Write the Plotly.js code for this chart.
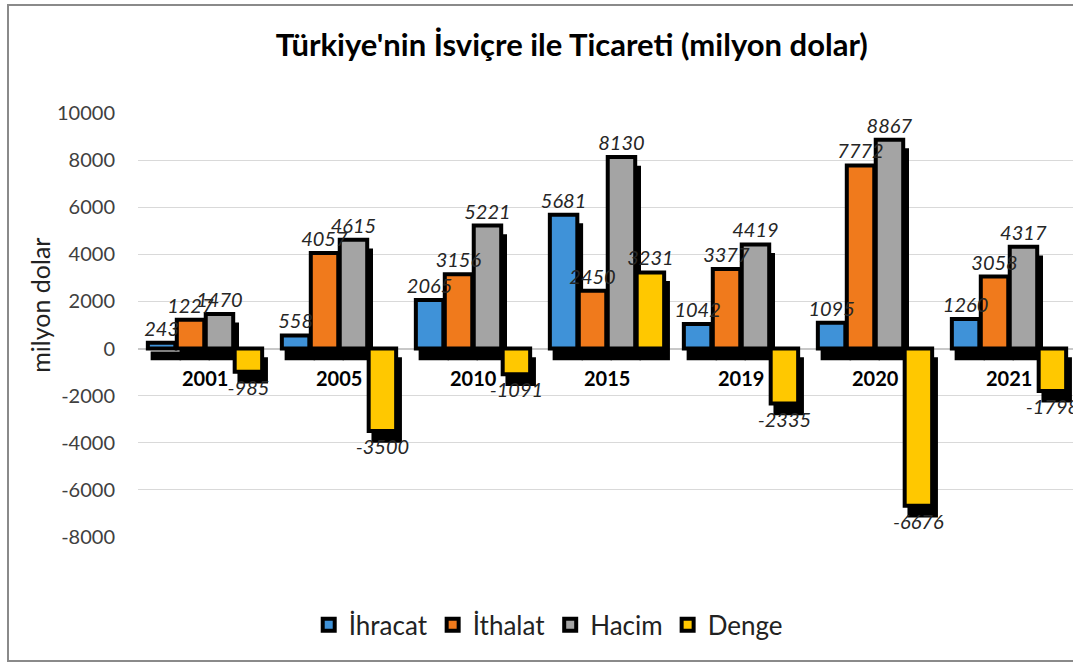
<!DOCTYPE html>
<html>
<head>
<meta charset="utf-8">
<script src="https://cdn.plot.ly/plotly-3.0.1.min.js"></script>
<style>
html,body{margin:0;padding:0;background:#fff;overflow:hidden;width:1073px;height:664px;}
#frame{position:absolute;left:7px;top:4px;width:1100px;height:654px;border:2px solid #8a8a8a;pointer-events:none;z-index:5;}
#chart{position:absolute;left:0;top:0;}
</style>
</head>
<body>
<div id="chart"></div>
<div id="frame"></div>
<script>
const categories = ['2001','2005','2010','2015','2019','2020','2021'];
const seriesNames = ['İhracat','İthalat','Hacim','Denge'];
const ihracat = [243, 558, 2065, 5681, 1042, 1095, 1260];
const ithalat = [1227, 4057, 3156, 2450, 3377, 7772, 3058];
const hacim = [1470, 4615, 5221, 8130, 4419, 8867, 4317];
const denge = [-985, -3500, -1091, 3231, -2335, -6676, -1798];
const tickVals = [-8000,-6000,-4000,-2000,0,2000,4000,6000,8000,10000];
const colors = ['#3f92d8','#f07a1c','#a4a4a4','#ffc800'];

const series = [ihracat, ithalat, hacim, denge];
const FONT = 'Lato, "Open Sans", sans-serif';
const pitch = 0.216, bw = 0.205;
const shadowDx = 0.032, shadowDy = 430;

const traces = [];
// shadows first (drawn beneath)
series.forEach((vals, i) => {
  const off = (i - 1.5) * pitch - bw / 2;
  traces.push({
    type: 'bar', x: categories, y: vals,
    base: vals.map(() => -shadowDy),
    offset: off + shadowDx, width: bw,
    marker: {color: '#000', line: {color: '#000', width: 3}},
    showlegend: false, hoverinfo: 'skip'
  });
});
// coloured bars
series.forEach((vals, i) => {
  const off = (i - 1.5) * pitch - bw / 2;
  traces.push({
    type: 'bar', name: seriesNames[i], x: categories, y: vals,
    offset: off, width: bw,
    marker: {color: colors[i], line: {color: '#000', width: 4}}
  });
});
// value labels drawn on top of all bars
series.forEach((vals, i) => {
  const off = (i - 1.5) * pitch - bw / 2;
  traces.push({
    type: 'bar', x: categories, y: vals,
    offset: off, width: bw,
    marker: {color: 'rgba(0,0,0,0)', line: {color: 'rgba(0,0,0,0)', width: 4}},
    text: vals.map(v => String(v)),
    texttemplate: '%{text}',
    textposition: 'outside',
    constraintext: 'none',
    cliponaxis: false,
    textfont: {family: FONT, size: 20, color: '#262626', style: 'italic'},
    showlegend: false, hoverinfo: 'skip'
  });
});

const annotations = categories.map((c, i) => ({
  x: i, y: 0, xref: 'x', yref: 'y', yanchor: 'top', yshift: -15,
  text: '<b>' + c + '</b>', showarrow: false,
  font: {family: FONT, size: 20, color: '#000'}
}));
annotations.push({
  xref: 'paper', yref: 'paper', x: -0.123, y: 0.547,
  text: 'milyon dolar', textangle: -90, showarrow: false,
  font: {family: FONT, size: 25, color: '#222'}
});

const layout = {
  width: 1085, height: 664,
  margin: {l: 138, r: 9, t: 113, b: 127},
  paper_bgcolor: '#fff', plot_bgcolor: '#fff',
  barmode: 'overlay',
  font: {family: FONT, color: '#333'},
  title: {
    text: "<b>Türkiye'nin İsviçre ile Ticareti (milyon dolar)</b>",
    x: 0.527, xanchor: 'center', y: 0.932, yanchor: 'middle',
    font: {family: FONT, size: 31, color: '#000'}
  },
  xaxis: {
    type: 'category', range: [-0.5, 6.5], showticklabels: false,
    showgrid: false, zeroline: false, showline: false, ticks: ''
  },
  yaxis: {
    range: [-8000, 10000], tickvals: tickVals,
    ticktext: tickVals.map(v => String(v)),
    tickfont: {family: FONT, size: 20, color: '#404040'},
    gridcolor: '#d9d9d9', gridwidth: 1,
    zeroline: true, zerolinecolor: '#c8c8c8', zerolinewidth: 2,
    showline: false, ticks: 'outside', ticklen: 18, tickcolor: 'rgba(0,0,0,0)'
  },
  legend: {
    orientation: 'h', x: 0.182, xanchor: 'left', y: -0.207, yanchor: 'middle',
    font: {family: FONT, size: 26, color: '#222'},
    traceorder: 'normal'
  },
  annotations: annotations,
  showlegend: true
};

Plotly.newPlot('chart', traces, layout, {displayModeBar: false, staticPlot: true});
</script>
</body>
</html>
